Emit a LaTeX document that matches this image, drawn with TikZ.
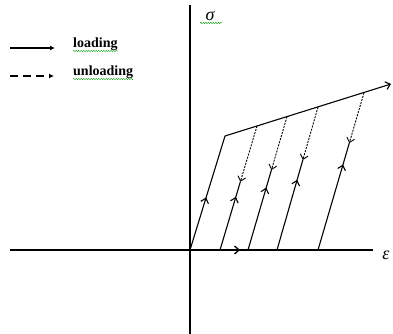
\documentclass[tikz,border=0pt]{standalone}
\usepackage{fontspec}
\setmainfont{Liberation Serif}
\usetikzlibrary{arrows.meta, calc, decorations.markings, decorations.pathmorphing}

\begin{document}
\begin{tikzpicture}[
    x=1pt, y=-1pt,
    axis/.style={line width=1.3pt},
    load/.style={line width=1.1pt},
    unload/.style={line width=0.9pt, dash pattern=on 2pt off 1.2pt},
    endtip/.style={-{Straight Barb[length=4.5pt,width=8pt]}},
    midarrow/.style={postaction={decorate}, decoration={markings,
        mark=at position #1 with {\arrow{Straight Barb[length=4.5pt,width=8pt]}}}},
    legendtxt/.style={font=\fontsize{14}{16}\selectfont\bfseries,
        anchor=base west, inner sep=0pt},
    axislabel/.style={font=\fontsize{18}{20}\selectfont\itshape, inner sep=0pt},
    squiggle/.style={green!60!black, line width=0.4pt, decorate,
        decoration={snake, amplitude=0.6pt, segment length=2.5pt}},
]
\useasboundingbox (0,0) rectangle (393,334);

% Assi
\coordinate (O)      at (190,250);
\coordinate (ytop)   at (190,5);
\coordinate (ybot)   at (190,334);
\coordinate (xleft)  at (10,250);
\coordinate (xright) at (373,250);
\draw[axis] (ytop) -- (ybot);
\draw[axis, midarrow=230pt] (xleft) -- (xright);
\node[axislabel] (sig) at (210,16) {σ};
\node[axislabel] (eps) at (386,255) {ε};

% Curva di carico
\coordinate (C) at (225,136);
\coordinate (E) at (391,84);
\draw[load, endtip, midarrow=55pt] (O) -- (C) -- (E);

% Punti di scarico sulla retta di incrudimento
\coordinate (A1) at (257,126);
\coordinate (A2) at (287,116.7);
\coordinate (A3) at (318,107.1);
\coordinate (A4) at (364,92.8);
\coordinate (B1) at (220,250);
\coordinate (B2) at (248,250);
\coordinate (B3) at (277,250);
\coordinate (B4) at (318,250);
\coordinate (S1) at ($(B1)!0.55!(A1)$);
\coordinate (S2) at ($(B2)!0.60!(A2)$);
\coordinate (S3) at ($(B3)!0.63!(A3)$);
\coordinate (S4) at ($(B4)!0.68!(A4)$);

% Scarico / ricarico
\draw[unload, endtip] (A1) -- (S1);
\draw[load, midarrow=0.78] (B1) -- (S1);
\draw[unload, endtip] (A2) -- (S2);
\draw[load, midarrow=0.78] (B2) -- (S2);
\draw[unload, endtip] (A3) -- (S3);
\draw[load, midarrow=0.78] (B3) -- (S3);
\draw[unload, endtip] (A4) -- (S4);
\draw[load, midarrow=0.8] (B4) -- (S4);

% Legenda
\coordinate (l1s) at (10,48);
\coordinate (l1e) at (55,48);
\coordinate (l2s) at (10,76);
\coordinate (l2e) at (54,76);
\draw[line width=1.2pt, -{Latex[length=5pt,width=5pt]}] (l1s) -- (l1e);
\draw[line width=1.2pt, dash pattern=on 8pt off 5pt,
    -{Latex[length=5pt,width=5pt]}] (l2s) -- (l2e);
\node[legendtxt] (loadtxt)   at (73,48) {loading};
\node[legendtxt] (unloadtxt) at (73,76) {unloading};

% Sottolineature
\draw[squiggle] ([yshift=-3pt]loadtxt.base west) -- ([yshift=-3pt]loadtxt.base east);
\draw[squiggle] ([yshift=-3pt]unloadtxt.base west) -- ([yshift=-3pt]unloadtxt.base east);
\draw[squiggle] ([xshift=-10pt,yshift=-2pt]sig.south) -- ([xshift=12pt,yshift=-2pt]sig.south);
\end{tikzpicture}
\end{document}
